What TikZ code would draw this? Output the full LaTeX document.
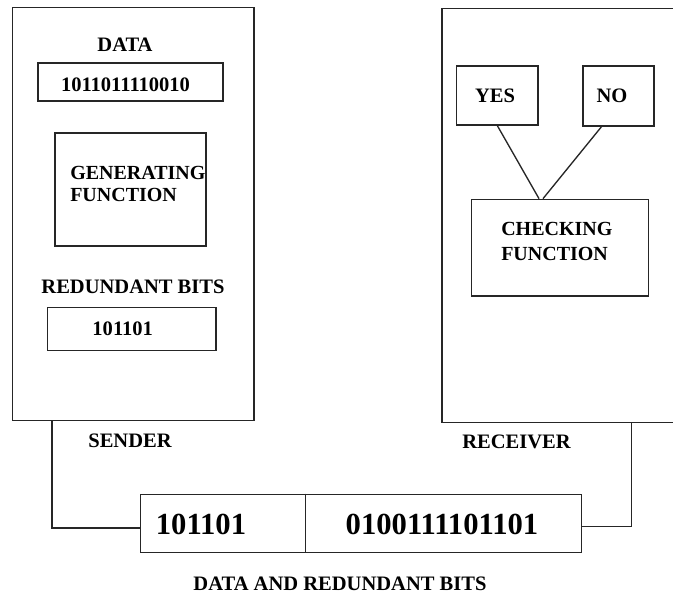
\documentclass[tikz,border=0pt]{standalone}
\usepackage{fontspec}
\setmainfont{Liberation Serif}
\usetikzlibrary{calc}
\begin{document}
\begin{tikzpicture}[x=0.75pt,y=-0.75pt,
  box/.style={draw=black!85,line width=1pt,inner sep=0pt},
  wire/.style={draw=black!85,line width=1pt},
  lbl/.style={inner sep=0pt,font=\fontsize{15.4}{18}\selectfont\bfseries},
  big/.style={inner sep=0pt,font=\fontsize{23}{27}\selectfont\bfseries}]
\clip (0,0) rectangle (673,593);
\fill[white] (0,0) rectangle (673,593);

% sender side
\node[box,minimum width=181pt,minimum height=310pt] (sender) at (133.35,214.1) {};
\node[lbl,anchor=base] (datalbl) at (125,51.7) {DATA};
\node[box,minimum width=138.75pt,minimum height=28.5pt] (databox) at (130.5,82) {};
\node[lbl,anchor=base] (datatxt) at (125.5,91.7) {1011011110010};
\node[box,minimum width=113.25pt,minimum height=84.75pt] (gen) at (130.5,189.5) {};
% base anchor of a two-line node sits on its last line
\node[lbl,anchor=base west,align=left,font=\fontsize{15}{16.3}\selectfont\bfseries] (gentxt) at (70,201.7) {GENERATING\\FUNCTION};
\node[lbl,anchor=base] (rblbl) at (133,293) {REDUNDANT BITS};
\node[box,minimum width=126.2pt,minimum height=32.25pt] (rbbox) at (131.85,329.2) {};
\node[lbl,anchor=base] (rbtxt) at (122.7,335) {101101};
\node[lbl,anchor=base] (sendlbl) at (130,447) {SENDER};

% receiver side
\node[box,minimum width=182.25pt,minimum height=310.8pt] (receiver) at (563.5,215.5) {};
\node[box,minimum width=61pt,minimum height=44.25pt] (yes) at (497.35,95.5) {};
\node[lbl,anchor=base] (yestxt) at (495,102) {YES};
\node[box,minimum width=53.25pt,minimum height=45pt] (no) at (618.5,96) {};
\node[lbl,anchor=base] (notxt) at (612,102) {NO};
\node[box,minimum width=132.45pt,minimum height=72.5pt] (check) at (560,247.65) {};
\node[lbl,anchor=base west,align=left,font=\fontsize{15}{18.75}\selectfont\bfseries] (checktxt) at (501,260) {CHECKING\\FUNCTION};
\node[lbl,anchor=base] (reclbl) at (516.5,448.3) {RECEIVER};

\draw[wire] (yes.south) -- ($(check.north)+(-21,0)$);
\draw[wire] ($(no.south)+(-17,0)$) -- ($(check.north)+(-17,0)$);

% transmitted frame
\node[box,minimum width=330.6pt,minimum height=43.8pt] (bits) at (361.1,523.5) {};
\draw[wire] ($(bits.north west)+(165.3,0)$) -- ($(bits.south west)+(165.3,0)$);
\node[big,anchor=base] (bitsl) at (201,534.3) {101101};
\node[big,anchor=base] (bitsr) at (442,534.3) {0100111101101};
\node[lbl,anchor=base] (bitslbl) at (340,590) {DATA AND REDUNDANT BITS};

\draw[wire] ($(sender.south west)+(40,0)$) |- ($(bits.west)+(0,4.5)$);
\draw[wire] ($(receiver.south west)+(190.3,0)$) |- ($(bits.east)+(0,3)$);
\end{tikzpicture}
\end{document}
